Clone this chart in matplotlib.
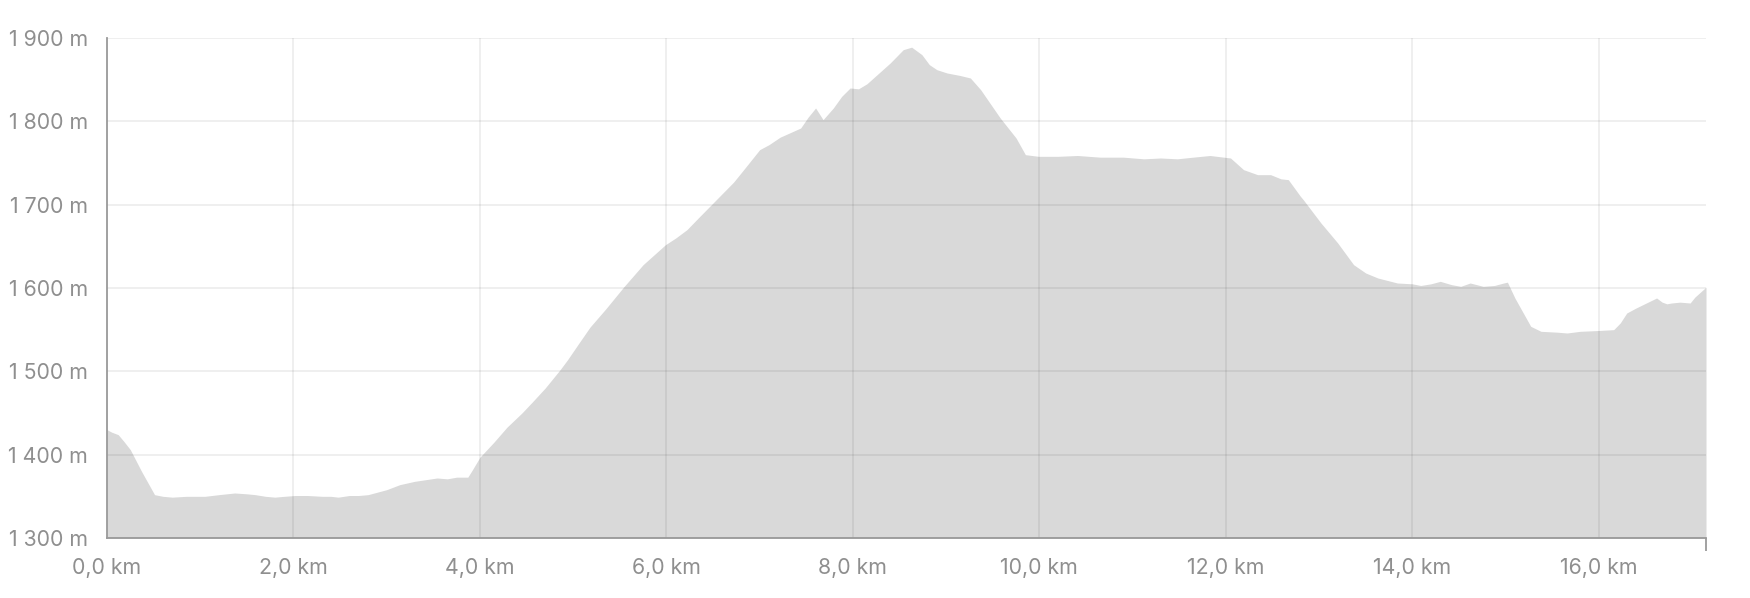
import matplotlib
matplotlib.use("Agg")
import matplotlib.pyplot as plt
from matplotlib.ticker import FixedLocator, FuncFormatter

plt.rcParams['font.family'] = ['Inter', 'DejaVu Sans']

distance_km = [0.0, 0.05, 0.12, 0.18, 0.25, 0.31, 0.37, 0.44, 0.51, 0.6, 0.7, 0.85, 1.05, 1.2,
               1.37, 1.5, 1.59, 1.7, 1.8, 1.9, 2.02, 2.15, 2.31, 2.4, 2.48, 2.6, 2.7, 2.8, 2.9,
               3.0, 3.14, 3.3, 3.54, 3.65, 3.75, 3.87, 3.92, 4.0, 4.15, 4.29, 4.45, 4.56, 4.7,
               4.86, 4.94, 5.05, 5.18, 5.35, 5.54, 5.75, 5.99, 6.1, 6.22, 6.35, 6.5, 6.72, 6.85,
               7.0, 7.1, 7.22, 7.44, 7.52, 7.6, 7.68, 7.79, 7.88, 7.97, 8.06, 8.15, 8.3, 8.4,
               8.54, 8.63, 8.74, 8.82, 8.9, 9.01, 9.15, 9.26, 9.37, 9.58, 9.75, 9.85, 9.99, 10.2,
               10.41, 10.65, 10.9, 11.12, 11.3, 11.48, 11.65, 11.83, 12.05, 12.19, 12.34, 12.48,
               12.59, 12.67, 12.8, 12.83, 13.02, 13.2, 13.37, 13.5, 13.63, 13.84, 14.0, 14.09,
               14.2, 14.3, 14.42, 14.52, 14.62, 14.76, 14.88, 14.98, 15.02, 15.1, 15.27, 15.38,
               15.55, 15.66, 15.8, 16.0, 16.16, 16.23, 16.3, 16.4, 16.51, 16.62, 16.68, 16.73,
               16.78, 16.87, 16.98, 17.03, 17.15]
elevation_m = [1430, 1427, 1424, 1416, 1406, 1393, 1380, 1366, 1352, 1350, 1349, 1350, 1350, 1352,
               1354, 1353, 1352, 1350, 1349, 1350, 1351, 1351, 1350, 1350, 1349, 1351, 1351, 1352, 1355,
               1358, 1364, 1368, 1372, 1371, 1373, 1373, 1382, 1397, 1415, 1433, 1450, 1463, 1480,
               1502, 1514, 1532, 1553, 1575, 1601, 1628, 1652, 1660, 1670, 1685, 1702, 1727, 1745,
               1766, 1772, 1781, 1792, 1805, 1816, 1802, 1816, 1830, 1840, 1839, 1845, 1860, 1870,
               1886, 1889, 1880, 1868, 1862, 1858, 1855, 1852, 1838, 1804, 1780, 1760, 1758, 1758,
               1759, 1757, 1757, 1755, 1756, 1755, 1757, 1759, 1756, 1742, 1736, 1736,
               1731, 1730, 1710, 1706, 1678, 1654, 1628, 1618, 1612, 1606, 1605, 1603,
               1605, 1608, 1604, 1602, 1606, 1602, 1603, 1606, 1607, 1588, 1554, 1548,
               1547, 1546, 1548, 1549, 1550, 1558, 1570, 1576, 1582, 1588, 1583, 1581,
               1582, 1583, 1582, 1589, 1601]

x_ticks = [0, 2, 4, 6, 8, 10, 12, 14, 16]
y_ticks = [1300, 1400, 1500, 1600, 1700, 1800, 1900]
x_max = 17.15

fig = plt.figure(figsize=(17.5, 5.98), dpi=100)
ax = fig.add_axes([107/1750, 1 - 538/598, (1706-107)/1750, 500/598])

ax.fill_between(distance_km, elevation_m, 1300, color='#d9d9d9', linewidth=0, zorder=1)
ax.set_xlim(0, x_max)
ax.set_ylim(1300, 1900)

ax.xaxis.set_major_locator(FixedLocator(x_ticks))
ax.yaxis.set_major_locator(FixedLocator(y_ticks))
ax.xaxis.set_major_formatter(FuncFormatter(lambda v, p: f"{v:.1f}".replace('.', ',') + " km"))
ax.yaxis.set_major_formatter(FuncFormatter(lambda v, p: f"{int(v):,}".replace(',', ' ') + " m"))
ax.xaxis.set_minor_locator(FixedLocator([0, x_max]))
ax.yaxis.set_minor_locator(FixedLocator([1300, 1900]))

ax.grid(True, which='major', color='black', alpha=0.07, linewidth=1.3, zorder=2)
ax.set_axisbelow(False)

for s in ['top', 'right']:
    ax.spines[s].set_visible(False)
for s in ['left', 'bottom']:
    ax.spines[s].set_color('#9a9a9a')
    ax.spines[s].set_linewidth(1.3)
    ax.spines[s].set_zorder(3)

ax.tick_params(which='major', length=0, labelsize=15.3, labelcolor='#8f8f8f')
ax.tick_params(axis='y', which='major', pad=13.5)
ax.tick_params(axis='x', which='major', pad=14.5)
ax.tick_params(which='minor', length=9, width=1.3, color='#9a9a9a')

fig.savefig('out.png', dpi=100, facecolor='white')
